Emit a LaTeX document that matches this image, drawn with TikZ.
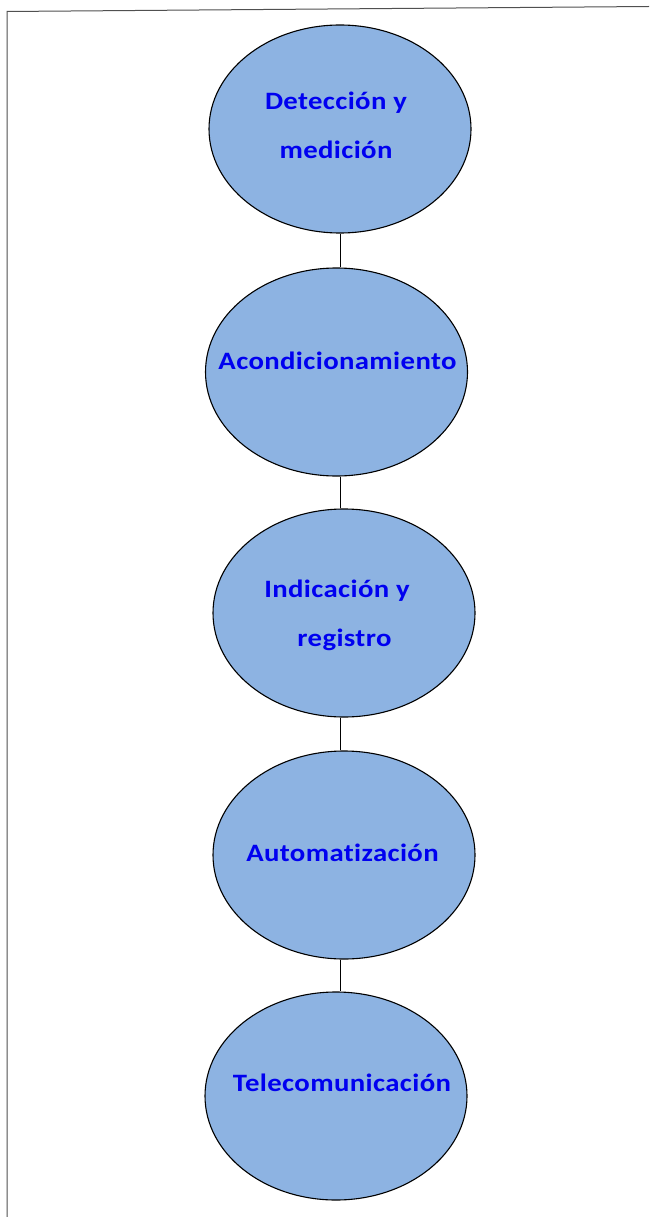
\documentclass[tikz,border=0pt]{standalone}
\usepackage{fontspec}
\setmainfont{Carlito}[FakeStretch=1.15, LetterSpace=1.5, Ligatures=NoCommon]
\usetikzlibrary{shapes.geometric}
\definecolor{ellfill}{HTML}{8DB3E2}
\definecolor{txtblue}{HTML}{0000F0}
\definecolor{frame}{HTML}{505050}
\begin{document}
\begin{tikzpicture}[x=1pt,y=-1pt,
  bubble/.style={ellipse, draw=black, line width=1.1pt, fill=ellfill, inner sep=0pt, minimum width=262pt, minimum height=208pt},
  lbl/.style={text=txtblue, font=\fontsize{25}{49}\selectfont\bfseries, align=center, inner sep=0pt},
  link/.style={draw=black, line width=1pt}]
\useasboundingbox (0,0) rectangle (649,1217);
\coordinate (ftl) at (7,11.5);
\coordinate (ftr) at (649,6.5);
\coordinate (fbl) at (7,1217);
\draw[frame, line width=1pt] (fbl) -- (ftl) -- (ftr);
\node[bubble] (e1) at (340,129) {};
\node[bubble] (e2) at (336.5,372) {};
\node[bubble] (e3) at (344,613) {};
\node[bubble] (e4) at (344,855) {};
\node[bubble] (e5) at (336,1096) {};
\draw[link] (e1.south) -- (e1.south |- e2.north);
\draw[link] (e2.south -| e1.south) -- (e1.south |- e3.north);
\draw[link] (e3.south -| e1.south) -- (e1.south |- e4.north);
\draw[link] (e4.south -| e1.south) -- (e1.south |- e5.north);
\node[lbl] (t1) at (336,125) {Detección y\\ medición};
\node[lbl] (t2) at (337.5,361) {Acondicionamiento};
\node[lbl] (t3) at (337,615) {Indicación y\\ \hspace*{15pt}registro};
\node[lbl] (t4) at (342.5,853) {Automatización};
\node[lbl] (t5) at (342,1083) {Telecomunicación};
\end{tikzpicture}
\end{document}
